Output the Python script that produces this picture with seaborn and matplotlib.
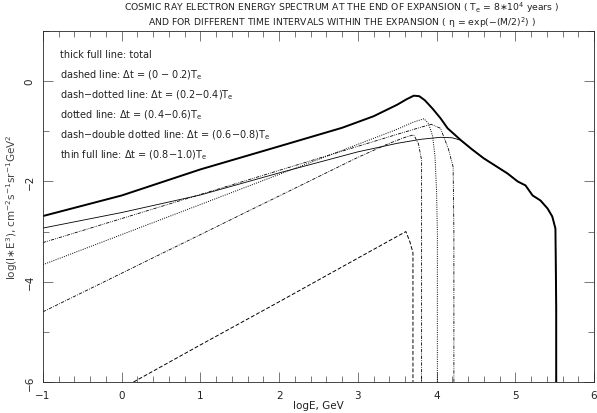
import numpy as np
import pandas as pd
import matplotlib
matplotlib.use("Agg")
import matplotlib.pyplot as plt
from matplotlib.ticker import MultipleLocator
import seaborn as sns

# total spectrum (thick full line)
total_x = [-1.0, 0.0, 1.0, 2.0, 2.8, 3.2, 3.5, 3.62, 3.71, 3.78, 3.85, 3.95, 4.05, 4.14,
           4.31, 4.45, 4.60, 4.75, 4.90, 5.03, 5.13, 5.22, 5.32, 5.41, 5.47, 5.51, 5.52, 5.52]
total_y = [-2.69, -2.28, -1.76, -1.30, -0.93, -0.70, -0.47, -0.36, -0.29, -0.30, -0.38, -0.55, -0.74, -0.94,
           -1.18, -1.36, -1.54, -1.69, -1.84, -2.00, -2.08, -2.28, -2.38, -2.54, -2.70, -2.94, -4.50, -6.00]

# dt = (0 - 0.2) Te, dashed
dash_x = [0.15, 1.0, 2.0, 3.0, 3.61, 3.66, 3.70, 3.70]
dash_y = [-6.00, -5.26, -4.40, -3.53, -3.00, -3.20, -3.42, -6.00]

# dt = (0.2 - 0.4) Te, dash-dotted
dd_x = [-1.0, 0.0, 1.0, 2.0, 3.0, 3.4, 3.6, 3.71, 3.77, 3.81, 3.81]
dd_y = [-4.60, -3.83, -3.06, -2.29, -1.52, -1.24, -1.12, -1.07, -1.25, -1.58, -6.00]

# dt = (0.4 - 0.6) Te, dotted
dot_x = [-1.0, 0.0, 1.0, 2.0, 3.0, 3.5, 3.7, 3.84, 3.90, 3.95, 3.98, 4.00, 4.01, 4.01]
dot_y = [-3.66, -3.06, -2.46, -1.86, -1.26, -0.96, -0.82, -0.75, -0.85, -1.10, -1.50, -2.20, -3.00, -6.00]

# dt = (0.6 - 0.8) Te, dash-double dotted
ddd_x = [-1.0, 0.0, 1.0, 2.0, 3.0, 3.5, 3.8, 3.93, 4.05, 4.15, 4.21, 4.22, 4.22]
ddd_y = [-3.22, -2.74, -2.26, -1.78, -1.30, -1.06, -0.92, -0.86, -0.94, -1.35, -1.71, -3.00, -6.00]

# dt = (0.8 - 1.0) Te, thin full line (joins the total above ~4.3)
thin_x = [-1.0, 0.0, 1.0, 2.0, 3.0, 3.5, 3.8, 4.05, 4.2, 4.31,
          4.45, 4.60, 4.75, 4.90, 5.03, 5.13, 5.22, 5.32, 5.41, 5.47, 5.51, 5.52, 5.52]
thin_y = [-2.93, -2.62, -2.27, -1.83, -1.41, -1.24, -1.16, -1.12, -1.13, -1.18,
          -1.36, -1.54, -1.69, -1.84, -2.00, -2.08, -2.28, -2.38, -2.54, -2.70, -2.94, -4.50, -6.00]

legend_lines = [
    r"thick full line: total",
    r"dashed line: $\Delta$t = (0 $-$ 0.2)T$_\mathregular{e}$",
    r"dash$-$dotted line: $\Delta$t = (0.2$-$0.4)T$_\mathregular{e}$",
    r"dotted line: $\Delta$t = (0.4$-$0.6)T$_\mathregular{e}$",
    r"dash$-$double dotted line: $\Delta$t = (0.6$-$0.8)T$_\mathregular{e}$",
    r"thin full line: $\Delta$t = (0.8$-$1.0)T$_\mathregular{e}$",
]

sns.set_style("ticks")
plt.rcParams["font.family"] = ["DejaVu Sans"]
plt.rcParams["mathtext.default"] = "regular"
plt.rcParams["axes.linewidth"] = 0.6

fig = plt.figure(figsize=(5.97, 4.14), dpi=100)
ax = fig.add_axes([43 / 597, 31 / 414, 551 / 597, 351 / 414])

series = [
    (total_x, total_y, 1.4, "-"),
    (dash_x, dash_y, 0.7, (0, (4, 2))),
    (dd_x, dd_y, 0.6, (0, (4, 1.5, 1, 1.5))),
    (dot_x, dot_y, 0.7, (0, (1, 1.3))),
    (ddd_x, ddd_y, 0.6, (0, (4, 1.3, 1, 1.3, 1, 1.3))),
    (thin_x, thin_y, 0.6, "-"),
]
for xs, ys, lw, ls in series:
    df = pd.DataFrame({"logE": xs, "val": ys})
    sns.lineplot(data=df, x="logE", y="val", ax=ax, color="black", lw=lw,
                 linestyle=ls, sort=False, estimator=None)

ax.set_xlim(-1, 6)
ax.set_ylim(-6, 1.0)
ax.xaxis.set_major_locator(MultipleLocator(1))
ax.xaxis.set_minor_locator(MultipleLocator(0.2))
ax.yaxis.set_major_locator(MultipleLocator(2))
ax.yaxis.set_minor_locator(MultipleLocator(1))
ax.tick_params(which="both", direction="in", top=True, right=True, width=0.5,
               colors="#444444", labelcolor="#222222", labelsize=7.5)
ax.tick_params(which="major", length=7)
ax.tick_params(which="minor", length=4)
ax.tick_params(axis="x", pad=6)
ax.tick_params(axis="y", labelrotation=90, pad=6)
for lab in ax.get_yticklabels():
    lab.set_va("center")

ax.set_xlabel("logE, GeV", fontsize=7.5, color="#222222", labelpad=0)
ax.set_ylabel(r"log(I$\ast$E$^3$), cm$^{-2}$s$^{-1}$sr$^{-1}$GeV$^2$", fontsize=7.5,
              color="#444444", labelpad=3)

for i, txt in enumerate(legend_lines):
    ax.text(0.031, 0.935 - i * 0.057, txt, transform=ax.transAxes, fontsize=7,
            color="#222222", va="center", ha="left")

fig.text(0.573, 0.981,
         r"COSMIC RAY ELECTRON ENERGY SPECTRUM AT THE END OF EXPANSION ( T$_\mathregular{e}$ = 8$\ast$10$^4$ years )",
         ha="center", va="center", fontsize=6.7, color="#222222")
fig.text(0.573, 0.946,
         r"AND FOR DIFFERENT TIME INTERVALS WITHIN THE EXPANSION ( $\eta$ = exp($-$(M/2)$^2$) )",
         ha="center", va="center", fontsize=6.7, color="#222222")

fig.savefig("out.png", dpi=100)
